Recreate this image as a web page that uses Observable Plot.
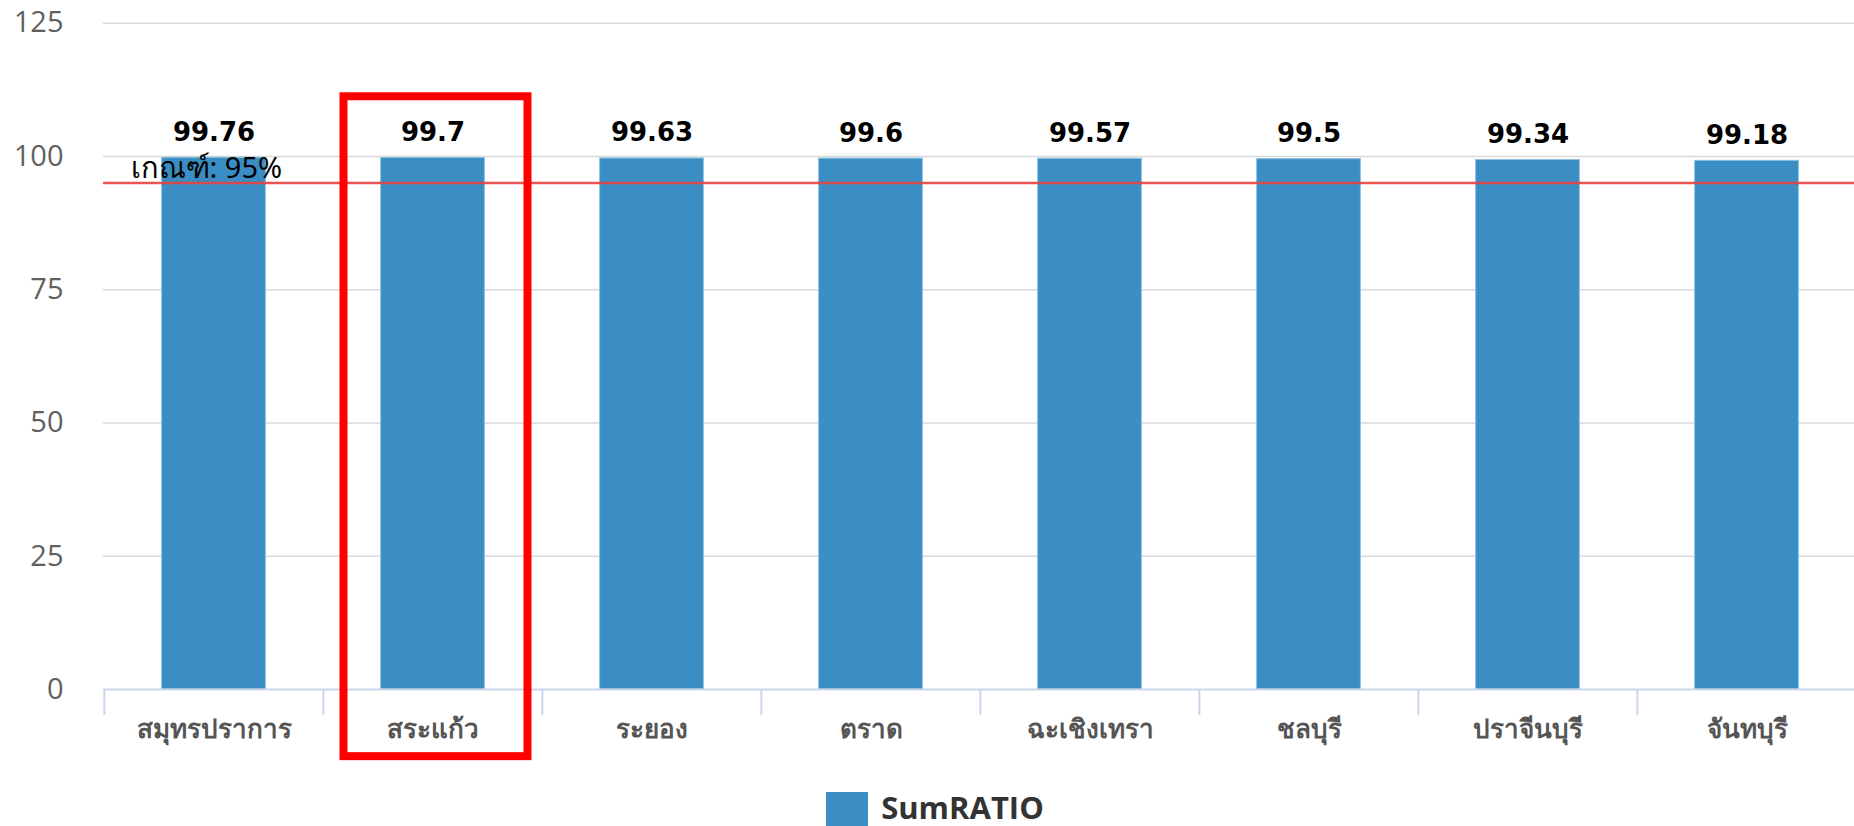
<!DOCTYPE html>
<html>
<head>
<meta charset="utf-8">
<script src="https://cdn.jsdelivr.net/npm/d3@7"></script>
<script src="https://cdn.jsdelivr.net/npm/@observablehq/plot@0.6"></script>
<style>
  html, body { margin: 0; padding: 0; background: #fff; overflow: hidden; }
  #chart svg { display: block; overflow: visible; }
  #legend { display: flex; justify-content: center; align-items: flex-start; gap: 13px; margin-top: 12px; padding-left: 16px; }
  #legend .sw { width: 42px; height: 42px; background: #3a8ec4; }
  #legend .lb { font: bold 31px "Open Sans", "DejaVu Sans", sans-serif; line-height: 1; color: #333; }
</style>
</head>
<body>
<div id="chart"></div>
<div id="legend"></div>
<script>
// ---- data ----
const categories = ["สมุทรปราการ", "สระแก้ว", "ระยอง", "ตราด", "ฉะเชิงเทรา", "ชลบุรี", "ปราจีนบุรี", "จันทบุรี"];
const values = [99.76, 99.7, 99.63, 99.6, 99.57, 99.5, 99.34, 99.18];
const yTicks = [0, 25, 50, 75, 100, 125];
const threshold = 95;
const thresholdLabel = "เกณฑ์: 95%";
const highlight = "สระแก้ว";
const highlightSpan = [-12.6, 111.2];
const seriesName = "SumRATIO";

const rows = categories.map((c, i) => ({cat: c, value: values[i]}));

const W = 1854, H = 780;
const mLeft = 103, mRight = -3, mTop = 22.7, mBottom = H - 689;
const step = (W - mLeft - mRight) / categories.length;
const barColor = "#3a8ec4";
const axisColor = "#ccd6eb";
const thaiFont = "'Noto Sans', 'DejaVu Sans', sans-serif";

const chart = Plot.plot({
  width: W, height: H,
  marginLeft: mLeft, marginRight: mRight, marginTop: mTop, marginBottom: mBottom,
  style: {background: "#fff", overflow: "visible"},
  x: {domain: categories, padding: 0},
  y: {domain: [0, 125]},
  marks: [
    Plot.gridY(yTicks.filter(t => t !== 0), {stroke: "#d9d9d9", strokeOpacity: 1, strokeWidth: 1.5}),
    Plot.axisY(yTicks, {tickSize: 0, tickPadding: 40, fontSize: 29, fill: "#606060", fontFamily: "'Open Sans', sans-serif", label: null}),
    Plot.axisX({tickSize: 0, tickPadding: 30, fontSize: 26, fill: "#555", fontWeight: "bold", fontFamily: thaiFont, label: null}),
    Plot.barY(rows, {x: "cat", y: "value", fill: barColor, stroke: "#8fc0e2", strokeWidth: 1, insetLeft: 57.6, insetRight: 57.6}),
    Plot.ruleY([0], {stroke: axisColor, strokeWidth: 2}),
    Plot.ruleX(categories, {dx: -step / 2, stroke: axisColor, strokeWidth: 2, insetTop: 689 - mTop, insetBottom: -26}),
    Plot.ruleY([threshold], {stroke: "#e8413f", strokeWidth: 2.5, strokeOpacity: 0.9}),
    Plot.text([threshold], {y: d => d, frameAnchor: "left", text: () => thresholdLabel, textAnchor: "start", lineAnchor: "bottom", dx: 27, dy: -5, fontSize: 29, fill: "#000", fontFamily: thaiFont}),
    Plot.text(rows, {x: "cat", y: "value", text: d => String(d.value), lineAnchor: "bottom", dy: -17, fontSize: 26, fontWeight: "bold", fill: "#000", fontFamily: "'DejaVu Sans', sans-serif"}),
    Plot.barY([highlight], {x: d => d, y1: highlightSpan[0], y2: highlightSpan[1], fill: "none", stroke: "#ff0000", strokeWidth: 8, insetLeft: 20.5, insetRight: 14.5})
  ]
});
document.getElementById("chart").appendChild(chart);

const legend = document.getElementById("legend");
legend.innerHTML = `<div class="sw"></div><div class="lb">${seriesName}</div>`;
</script>
</body>
</html>
